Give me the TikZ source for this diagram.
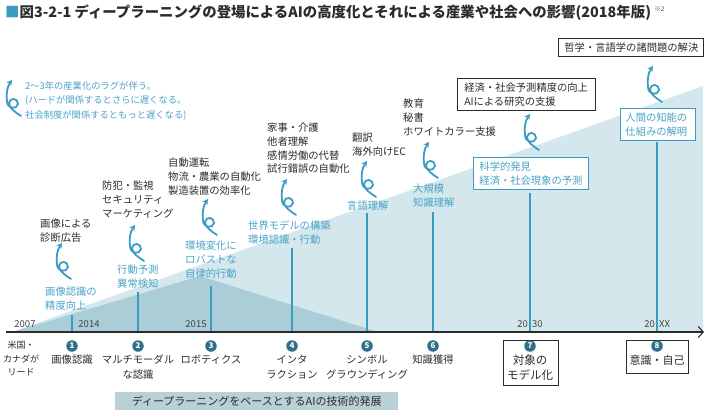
\documentclass[tikz,border=0pt]{standalone}
\usepackage{fontspec}
\setmainfont{Noto Sans CJK JP}
\usetikzlibrary{arrows.meta}
\definecolor{bl}{HTML}{3B9CC3}
\definecolor{bltxt}{HTML}{4AA2C6}
\definecolor{dk}{HTML}{2F6F8A}
\definecolor{lightreg}{HTML}{D3E7ED}
\definecolor{darkreg}{HTML}{AACDD8}
\definecolor{bannerc}{HTML}{B9D0D6}
\definecolor{txt}{HTML}{2B2B2B}
\definecolor{yr}{HTML}{444444}
\tikzset{
  curlst/.style={draw=bl, line width=1.8pt, line cap=round, {Stealth[length=5.5pt,width=6pt]}-},
  curl/.pic={\draw[curlst] (7,0) .. controls (2,7) and (1,15) .. (2,21) .. controls (2,29) and (12,30) .. (13,24) .. controls (13,18) and (5,17) .. (4,23) .. controls (4,28) and (10,32) .. (16,36);},
  tx/.style={anchor=north west, inner sep=0pt, align=left, text=txt, font=\fontsize{10.3}{13.7}\selectfont},
  btx/.style={tx, text=bltxt},
  vline/.style={draw=bl, line width=1.2pt},
  numc/.style={circle, fill=dk, text=white, inner sep=0pt, minimum size=11.5pt, font=\fontsize{8}{8}\selectfont\bfseries},
  lab/.style={anchor=north, inner sep=0pt, align=center, text=txt, font=\fontsize{10.3}{14.5}\selectfont},
  year/.style={inner sep=0pt, text=yr, font=\fontsize{9.5}{9.5}\selectfont},
  blkbox/.style={draw=txt, line width=0.8pt, fill=white},
  blubox/.style={draw=bl, line width=0.9pt, fill=white},
}
\begin{document}
\begin{tikzpicture}[x=1pt,y=-1pt]
\useasboundingbox (0,0) rectangle (715,420);
% shaded regions
\fill[lightreg] (12,332) -- (703,86) -- (703,332) -- cycle;
\fill[darkreg] (12,332) -- (200,276) -- (378,332) -- cycle;
% title
\node[anchor=west, inner sep=0pt, text=txt, font=\fontsize{14.4}{14.4}\selectfont\bfseries] (title) at (5,13) {\textcolor{bl}{■}図3-2-1 ディープラーニングの登場によるAIの高度化とそれによる産業や社会への影響(2018年版)};
\node[anchor=west, inner sep=0pt, text=yr, font=\fontsize{6.5}{6.5}\selectfont] (sup) at (title.east) [yshift=4pt, xshift=3pt] {※2};
% note
\pic at (5,80) {curl};
\node[btx, font=\fontsize{9.3}{14.8}\selectfont] (note) at (25,81) {2〜3年の産業化のラグが伴う。\\(ハードが関係するとさらに遅くなる。\\社会制度が関係するともっと遅くなる)};
% vertical lines
\draw[vline] (72,315) -- (72,332);
\draw[vline] (138,292) -- (138,332);
\draw[vline] (211,286) -- (211,332);
\draw[vline] (292,248) -- (292,332);
\draw[vline] (367,213) -- (367,332);
\draw[vline] (433,212) -- (433,332);
\draw[vline] (530,193) -- (530,332);
\draw[vline] (657,142) -- (657,332);
% axis
\coordinate (ax0) at (6,332);
\coordinate (ax1) at (704,332);
\draw[line width=1.1pt, draw=txt, -{Straight Barb[length=5pt,width=11pt]}] (ax0) -- (ax1);
% years
\node[year] (y2007) at (25,324) {2007};
\node[year] (y2014) at (89,324) {2014};
\node[year] (y2015) at (196,324) {2015};
\node[year, anchor=east] (y20a) at (528,324) {20};
\node[year, anchor=west] (y30) at (532,324) {30};
\node[year, anchor=east] (y20b) at (655,324) {20};
\node[year, anchor=west] (yxx) at (659,324) {XX};
% curls
\pic at (55,243) {curl};
\pic at (128,225) {curl};
\pic at (201,199) {curl};
\pic at (280,179) {curl};
\pic at (360,161) {curl};
\pic at (422,142) {curl};
\pic at (523,114) {curl};
\pic at (646,66) {curl};
% black texts
\node[tx] (t1) at (40,219) {画像による\\診断広告};
\node[tx] (t2) at (102,181) {防犯・監視\\セキュリティ\\マーケティング};
\node[tx] (t3) at (168,158) {自動運転\\物流・農業の自動化\\製造装置の効率化};
\node[tx] (t4) at (267,123) {家事・介護\\他者理解\\感情労働の代替\\試行錯誤の自動化};
\node[tx] (t5) at (352,133) {翻訳\\海外向けEC};
\node[tx] (t6) at (403,99) {教育\\秘書\\ホワイトカラー支援};
% blue texts
\node[btx] (b1) at (45,287) {画像認識の\\精度向上};
\node[btx] (b2) at (117,265) {行動予測\\異常検知};
\node[btx] (b3) at (185,241) {環境変化に\\ロバストな\\自律的行動};
\node[btx] (b4) at (248,221) {世界モデルの構築\\環境認識・行動};
\node[btx] (b5) at (347,201) {言語理解};
\node[btx] (b6) at (413,184) {大規模\\知識理解};
% boxes
\node[blkbox, anchor=north west, text width=124pt, inner xsep=7pt, inner ysep=4pt, align=left, text=txt, font=\fontsize{10.3}{14.5}\selectfont] (k1) at (457,78) {経済・社会予測精度の向上\\AIによる研究の支援};
\node[blkbox, anchor=north west, text width=133pt, inner xsep=6pt, inner ysep=4pt, align=center, text=txt, font=\fontsize{10.3}{14}\selectfont] (k2) at (558,38) {哲学・言語学の諸問題の解決};
\node[blubox, anchor=north west, text width=103pt, inner xsep=6pt, inner ysep=4pt, align=left, text=bltxt, font=\fontsize{10.3}{14.5}\selectfont] (k3) at (473,157) {科学的発見\\経済・社会現象の予測};
\node[blubox, anchor=north west, text width=65pt, inner xsep=5pt, inner ysep=4pt, align=left, text=bltxt, font=\fontsize{10.3}{14.5}\selectfont] (k4) at (620,108) {人間の知能の\\仕組みの解明};
% bottom boxes
\node[blkbox, minimum width=55pt, minimum height=45pt, inner sep=0pt] (box7) at (530.5,362.5) {};
\node[blkbox, minimum width=62pt, minimum height=33pt, inner sep=0pt] (box8) at (657,356.5) {};
% circled numbers
\node[numc] (n1) at (72,346) {1};
\node[numc] (n2) at (138,346) {2};
\node[numc] (n3) at (211,346) {3};
\node[numc] (n4) at (292,346) {4};
\node[numc] (n5) at (367,346) {5};
\node[numc] (n6) at (433,346) {6};
\node[numc] (n7) at (530,346) {7};
\node[numc] (n8) at (657,346) {8};
% labels
\node[lab, font=\fontsize{9}{13.5}\selectfont] (us) at (21,341) {米国・\\カナダが\\リード};
\node[lab] (l1) at (72,355) {画像認識};
\node[lab] (l2) at (138,355) {マルチモーダル\\な認識};
\node[lab] (l3) at (211,355) {ロボティクス};
\node[lab] (l4) at (292,355) {インタ\\ラクション};
\node[lab] (l5) at (367,355) {シンボル\\グラウンディング};
\node[lab] (l6) at (433,355) {知識獲得};
\node[lab, font=\fontsize{11.5}{15}\selectfont] (l7) at (530,355) {対象の\\モデル化};
\node[lab, font=\fontsize{11}{15}\selectfont] (l8) at (657,355) {意識・自己};
% banner
\node[anchor=north west, fill=bannerc, minimum width=283pt, minimum height=18pt, inner sep=0pt, text=txt, font=\fontsize{11}{11}\selectfont] (banner) at (115,392) {ディープラーニングをベースとするAIの技術的発展};
\end{tikzpicture}
\end{document}
